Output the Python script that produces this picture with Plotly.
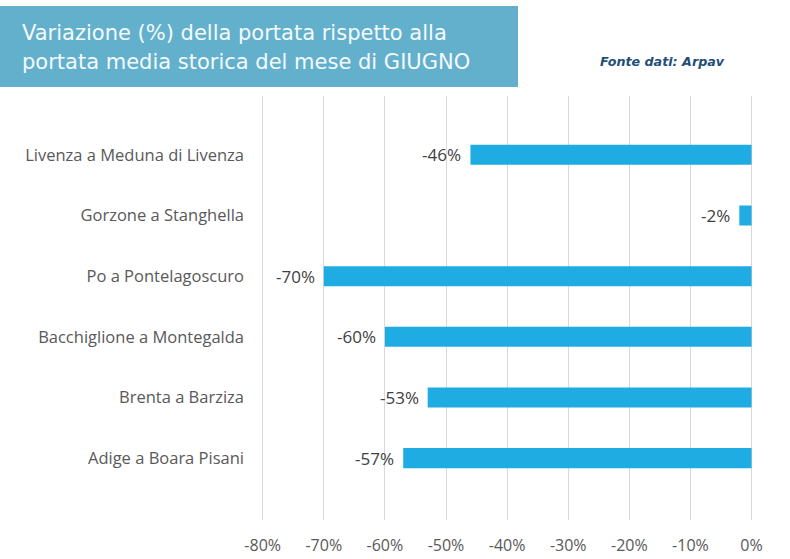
import plotly.graph_objects as go

categories = ["Adige a Boara Pisani", "Brenta a Barziza", "Bacchiglione a Montegalda",
              "Po a Pontelagoscuro", "Gorzone a Stanghella", "Livenza a Meduna di Livenza"]
values = [-57, -53, -60, -70, -2, -46]
tick_vals = [-80, -70, -60, -50, -40, -30, -20, -10, 0]
tick_text = ["-80%", "-70%", "-60%", "-50%", "-40%", "-30%", "-20%", "-10%", "0%"]
title_lines = ["Variazione (%) della portata rispetto alla",
               "portata media storica del mese di GIUGNO"]
source_text = "Fonte dati: Arpav"

W, H = 790, 559
ml, mr, mt, mb = 259, 36, 96, 39
pw, ph = W - ml - mr, H - mt - mb

def px_x(p):
    return (p - ml) / pw

def px_y(p):
    return (H - mb - p) / ph

label_font = "Open Sans"

fig = go.Figure()
fig.add_trace(go.Bar(
    x=values, y=categories, orientation="h",
    marker=dict(color="#1FACE3", line=dict(width=0)),
    width=0.33, hoverinfo="skip",
))

annotations = []
for c, v in zip(categories, values):
    annotations.append(dict(x=v, y=c, xref="x", yref="y", text=f"{v}%",
                            showarrow=False, xanchor="right", yanchor="middle",
                            xshift=-7, font=dict(family=label_font, size=17, color="#404040")))

annotations.append(dict(x=px_x(20), y=px_y(33), xref="paper", yref="paper",
                        text=title_lines[0], showarrow=False, xanchor="left", yanchor="middle",
                        font=dict(family="DejaVu Sans", size=21, color="#F4FAFC")))
annotations.append(dict(x=px_x(20), y=px_y(62), xref="paper", yref="paper",
                        text=title_lines[1], showarrow=False, xanchor="left", yanchor="middle",
                        font=dict(family="DejaVu Sans", size=21, color="#F4FAFC")))
annotations.append(dict(x=px_x(598), y=px_y(62), xref="paper", yref="paper",
                        text=f"<b><i>{source_text}</i></b>", showarrow=False,
                        xanchor="left", yanchor="middle",
                        font=dict(family="DejaVu Sans", size=12.7, color="#1F4E79")))

fig.update_layout(
    width=W, height=H,
    margin=dict(l=ml, r=mr, t=mt, b=mb, pad=0, autoexpand=False),
    paper_bgcolor="white", plot_bgcolor="white",
    showlegend=False,
    annotations=annotations,
    shapes=[dict(type="rect", xref="paper", yref="paper",
                 x0=px_x(0), x1=px_x(518), y0=px_y(87), y1=px_y(6),
                 fillcolor="#63B0CC", line=dict(width=0), layer="above")],
    xaxis=dict(range=[-80.6, 0.4], tickvals=tick_vals, ticktext=tick_text,
               showgrid=True, gridcolor="#D9D9D9", gridwidth=1, zeroline=False,
               showline=False, ticks="", ticklabelstandoff=14, automargin=False,
               tickfont=dict(family=label_font, size=16, color="#595959")),
    yaxis=dict(type="category", range=[-1.02, 5.97], showgrid=False, zeroline=False,
               showline=False, ticks="", ticklabelstandoff=14, automargin=False,
               tickfont=dict(family=label_font, size=16.5, color="#595959")),
)

fig.write_html("out.html")
